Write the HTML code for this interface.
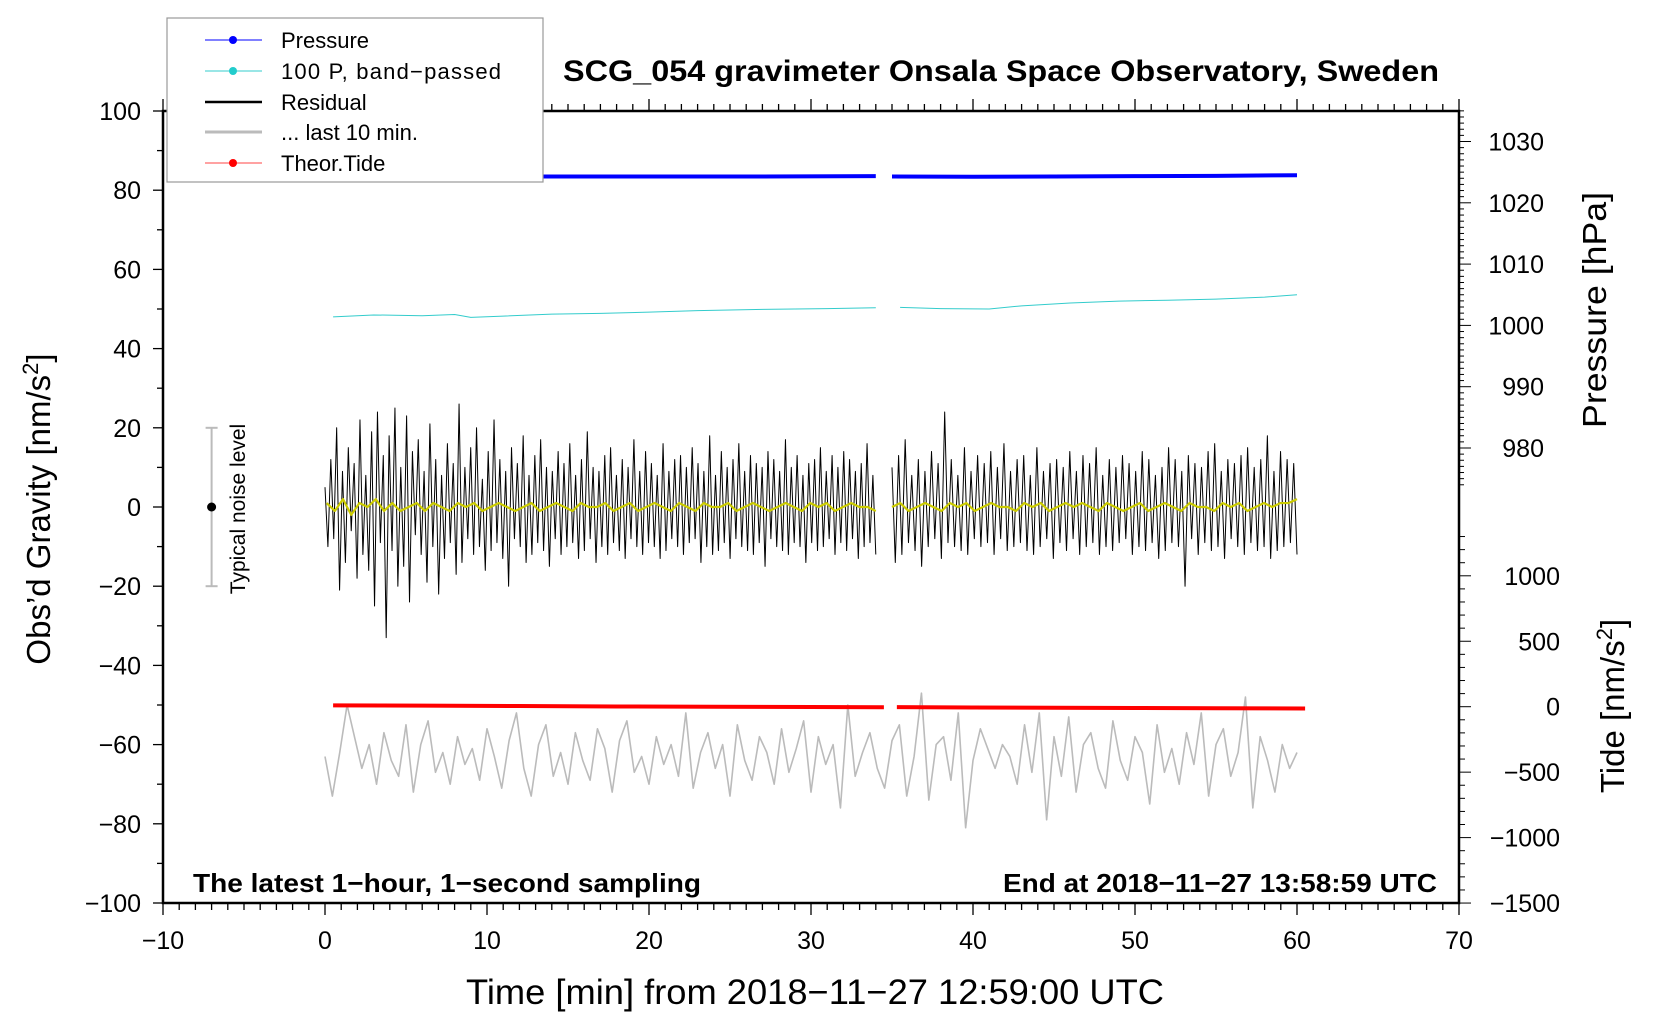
<!DOCTYPE html>
<html><head><meta charset="utf-8"><style>
html,body{margin:0;padding:0;background:#fff;}
svg{display:block;font-family:"Liberation Sans",Arial,sans-serif;}
</style></head><body>
<svg id="chart" width="1660" height="1020" viewBox="0 0 1660 1020" xmlns="http://www.w3.org/2000/svg">
<rect x="0" y="0" width="1660" height="1020" fill="#fff"/>
<g id="plot"></g>
<g id="axes"></g>
<g id="legend">
<rect x="167" y="18" width="376" height="164" fill="#fff" stroke="#999" stroke-width="1.2"/>
<line x1="205" y1="40" x2="262" y2="40" stroke="#0000ff" stroke-width="1"/><circle cx="233" cy="40" r="4" fill="#0000ff"/>
<text x="281" y="48" font-size="22">Pressure</text>
<line x1="205" y1="71" x2="262" y2="71" stroke="#33cccc" stroke-width="1"/><circle cx="233" cy="71" r="4" fill="#22cccc"/>
<text x="281" y="79" font-size="22" textLength="220">100 P, band−passed</text>
<line x1="205" y1="102" x2="262" y2="102" stroke="#000" stroke-width="2.5"/>
<text x="281" y="110" font-size="22">Residual</text>
<line x1="205" y1="132" x2="262" y2="132" stroke="#bbb" stroke-width="3"/>
<text x="281" y="140" font-size="22">... last 10 min.</text>
<line x1="205" y1="163" x2="262" y2="163" stroke="#ff4444" stroke-width="1"/><circle cx="233" cy="163" r="4" fill="#ff0000"/>
<text x="281" y="171" font-size="22">Theor.Tide</text>
</g>
<text x="563" y="81" font-size="30" font-weight="bold" textLength="876" lengthAdjust="spacingAndGlyphs">SCG_054 gravimeter Onsala Space Observatory, Sweden</text>
<text x="193" y="892" font-size="26" font-weight="bold" textLength="508" lengthAdjust="spacingAndGlyphs">The latest 1−hour, 1−second sampling</text>
<text x="1003" y="892" font-size="26" font-weight="bold" textLength="434" lengthAdjust="spacingAndGlyphs">End at 2018−11−27 13:58:59 UTC</text>
<text x="466" y="1004" font-size="35" textLength="698" lengthAdjust="spacingAndGlyphs">Time [min] from 2018−11−27 12:59:00 UTC</text>
<text transform="translate(50,509) rotate(-90)" font-size="33" text-anchor="middle">Obs’d Gravity [nm/s<tspan font-size="22" dy="-12">2</tspan><tspan dy="12">]</tspan></text>
<text transform="translate(1606,310) rotate(-90)" font-size="33" text-anchor="middle" textLength="236" lengthAdjust="spacingAndGlyphs">Pressure [hPa]</text>
<text transform="translate(1624,706) rotate(-90)" font-size="33" text-anchor="middle">Tide [nm/s<tspan font-size="22" dy="-12">2</tspan><tspan dy="12">]</tspan></text>
<g>
<text transform="translate(245,509) rotate(-90)" font-size="21" text-anchor="middle">Typical noise level</text>
</g>
</svg>
<script>
// ---- data ----
const xTicks = [-10,0,10,20,30,40,50,60,70];
const yTicks = [100,80,60,40,20,0,-20,-40,-60,-80,-100];
const pTicks = [1030,1020,1010,1000,990,980];
const tTicks = [1000,500,0,-500,-1000,-1500];
const pressureX1 = [0.3,7,14,20,27,34];
const pressure1 = [1024.2,1024.25,1024.3,1024.3,1024.3,1024.35];
const pressureX2 = [35,40,45,50,55,60];
const pressure2 = [1024.3,1024.25,1024.3,1024.35,1024.4,1024.5];
const bandX1 = [0.5,3,6,8,9,11,14,17,20,23,27,31,34];
const band1 = [48,48.5,48.3,48.6,47.9,48.2,48.7,48.9,49.2,49.6,49.9,50.1,50.3];
const bandX2 = [35.5,38,41,43,46,49,52,55,58,60];
const band2 = [50.4,50.1,50.0,50.8,51.5,52.0,52.2,52.5,53.0,53.6];
const tideX1 = [0.5,6,12,18,24,30,34.5];
const tide1 = [10,8,5,2,0,-2,-4];
const tideX2 = [35.3,40,45,50,55,60.5];
const tide2 = [-3,-6,-8,-10,-12,-14];
const resid1 = [5,-10,12,-8,20,-21,9,-14,15,-6,11,-18,22,-12,8,-16,19,-25,24,-9,13,-33,18,-11,25,-20,10,-15,23,-24,14,-7,17,-12,9,-19,21,-10,12,-22,8,-13,16,-9,11,-17,26,-14,10,-8,15,-12,20,-10,7,-16,14,-11,22,-9,12,-13,9,-20,15,-8,11,-10,18,-14,8,-12,13,-9,17,-11,10,-15,9,-8,14,-12,11,-10,16,-9,8,-13,12,-11,19,-8,10,-14,9,-10,13,-12,15,-9,8,-11,12,-13,10,-8,17,-10,9,-12,14,-9,11,-10,8,-13,16,-11,9,-8,12,-10,13,-12,10,-9,15,-8,11,-14,9,-10,18,-12,8,-11,14,-9,10,-13,12,-8,16,-10,9,-11,13,-12,11,-9,10,-15,14,-8,12,-10,9,-11,17,-12,10,-9,13,-10,8,-14,11,-9,12,-11,15,-10,9,-8,13,-12,10,-9,14,-11,12,-8,9,-13,11,-10,16,-9,8,-12];
const resid2 = [10,-14,13,-12,17,-9,8,-11,12,-15,9,-10,14,-8,11,-13,24,-9,12,-10,8,-11,15,-12,9,-8,13,-10,11,-9,14,-12,10,-8,16,-11,9,-10,12,-9,13,-11,8,-12,15,-10,9,-8,11,-13,12,-9,10,-11,14,-8,9,-12,13,-10,11,-9,15,-12,8,-10,12,-11,10,-9,13,-8,11,-12,9,-10,14,-11,12,-9,8,-13,10,-11,15,-9,12,-10,9,-20,13,-8,11,-12,10,-9,14,-11,16,-10,9,-13,12,-8,11,-10,13,-12,15,-9,10,-11,12,-10,18,-13,9,-11,14,-10,12,-9,11,-12];
const smooth1 = [1,-1,2,-2,1,0,2,-1,1,-1,0,1,-1,1,0,-1,1,0,1,-1,0,1,0,-1,0,1,-1,0,1,0,-1,1,0,0,1,-1,0,1,-1,0,1,0,-1,1,0,-1,1,0,0,1,-1,0,1,0,-1,0,1,0,-1,1,0,1,-1,0,1,0,0,-1];
const smooth2 = [0,1,-1,0,1,0,-1,1,0,1,-1,0,1,0,0,-1,1,0,1,-1,0,1,0,1,0,-1,1,0,-1,0,1,-1,0,1,0,-1,1,0,0,-1,1,0,1,-1,0,1,0,1,1,2];
const last10 = [-63,-73,-62,-50,-58,-66,-60,-70,-57,-64,-68,-55,-72,-60,-54,-67,-62,-70,-58,-65,-61,-69,-56,-63,-71,-59,-52,-66,-73,-60,-55,-68,-62,-70,-57,-64,-69,-56,-61,-72,-59,-54,-67,-63,-70,-58,-65,-60,-68,-52,-71,-62,-57,-66,-60,-73,-55,-64,-69,-58,-62,-70,-56,-67,-61,-54,-72,-58,-65,-60,-76,-50,-68,-62,-57,-66,-71,-59,-55,-73,-63,-47,-74,-60,-58,-69,-52,-81,-64,-56,-61,-66,-60,-63,-70,-55,-67,-52,-79,-58,-68,-53,-72,-60,-57,-66,-71,-54,-64,-69,-58,-62,-75,-55,-67,-61,-70,-57,-65,-52,-73,-60,-56,-68,-62,-48,-76,-58,-64,-72,-60,-66,-62];

// ---- scales ----
const L=163,R=1459,T=111,B=903;
const sx = v => L + (v+10)*(R-L)/80;
const sy = v => T + (100-v)*(B-T)/200;
const sp = v => 141.5 + (1030-v)*6.13;
const st = v => 706.7 - v*0.1309;
const NS='http://www.w3.org/2000/svg';
const plot=document.getElementById('plot'), axes=document.getElementById('axes');
function mk(tag,attrs,parent){const e=document.createElementNS(NS,tag);for(const k in attrs)e.setAttribute(k,attrs[k]);parent.appendChild(e);return e;}
function poly(xs,ys,color,w,name){
  const pts=xs.map((x,i)=>x.toFixed(2)+','+ys[i].toFixed(2)).join(' ');
  const e=mk('polyline',{points:pts,fill:'none',stroke:color,'stroke-width':w,'stroke-linejoin':'round'},plot);
  
  
}
function spread(arr,a,b){return arr.map((_,i)=>a+(b-a)*i/(arr.length-1));}

poly(spread(last10,0,60).map(sx), last10.map(sy), '#bbb', 1.6, 'last-10-min-series');
poly(spread(resid1,0,34).map(sx), resid1.map(sy), '#000', 1, 'residual-series-1');
poly(spread(resid2,35,60).map(sx), resid2.map(sy), '#000', 1, 'residual-series-2');
poly(spread(smooth1,0.1,34).map(sx), smooth1.map(sy), '#cccc00', 2.2, 'residual-smoothed-1');
poly(spread(smooth2,35,60).map(sx), smooth2.map(sy), '#cccc00', 2.2, 'residual-smoothed-2');
poly(bandX1.map(sx), band1.map(sy), '#33cccc', 1, 'band-passed-series-1');
poly(bandX2.map(sx), band2.map(sy), '#33cccc', 1, 'band-passed-series-2');
poly(pressureX1.map(sx), pressure1.map(sp), '#0000ff', 4, 'pressure-series-1');
poly(pressureX2.map(sx), pressure2.map(sp), '#0000ff', 4, 'pressure-series-2');
poly(tideX1.map(sx), tide1.map(st), '#ff0000', 4, 'tide-series-1');
poly(tideX2.map(sx), tide2.map(st), '#ff0000', 4, 'tide-series-2');

// noise indicator
const nx=sx(-7);
mk('line',{x1:nx,y1:sy(20),x2:nx,y2:sy(-20),stroke:'#bbb','stroke-width':2},plot);
mk('line',{x1:nx-6,y1:sy(20),x2:nx+6,y2:sy(20),stroke:'#bbb','stroke-width':2},plot);
mk('line',{x1:nx-6,y1:sy(-20),x2:nx+6,y2:sy(-20),stroke:'#bbb','stroke-width':2},plot);
mk('circle',{cx:nx,cy:sy(0),r:4.5,fill:'#000'},plot);

// frame
const fr=mk('rect',{x:L,y:T,width:R-L,height:B-T,fill:'none',stroke:'#000','stroke-width':2.5},axes);


// x ticks
for(let m=-10;m<=70;m++){
  const x=sx(m), major=(m%10===0);
  mk('line',{x1:x,y1:B,x2:x,y2:B+(major?12:7),stroke:'#000','stroke-width':1.3},axes);
  mk('line',{x1:x,y1:T,x2:x,y2:T-(major?12:7),stroke:'#000','stroke-width':1.3},axes);
}
xTicks.forEach(v=>{const t=mk('text',{x:sx(v),y:949,'font-size':25,'text-anchor':'middle'},axes);t.textContent=String(v).replace('-','−');

});
// y ticks
for(let v=-100;v<=100;v+=10){const y=sy(v);mk('line',{x1:L-(v%20===0?10:6),y1:y,x2:L,y2:y,stroke:'#000','stroke-width':1.3},axes);}
yTicks.forEach(v=>{const t=mk('text',{x:141,y:sy(v)+9,'font-size':25,'text-anchor':'end'},axes);t.textContent=String(v).replace('-','−');

});
// pressure ticks
for(let v=1035;v>=974;v--){const y=sp(v);mk('line',{x1:R,y1:y,x2:R+(v%10===0?12:5),y2:y,stroke:'#000','stroke-width':1},axes);}
pTicks.forEach(v=>{const t=mk('text',{x:1544,y:sp(v)+9,'font-size':25,'text-anchor':'end'},axes);t.textContent=v;

});
// tide ticks
for(let v=-1500;v<=1300;v+=100){const y=st(v);mk('line',{x1:R,y1:y,x2:R+(v%500===0?12:6),y2:y,stroke:'#000','stroke-width':1},axes);}
tTicks.forEach(v=>{const t=mk('text',{x:1560,y:st(v)+9,'font-size':25,'text-anchor':'end'},axes);t.textContent=String(v).replace('-','−');

});
</script>
</body></html>
